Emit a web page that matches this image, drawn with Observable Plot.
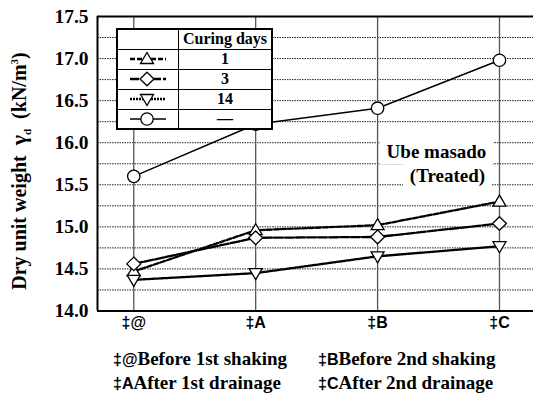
<!DOCTYPE html>
<html>
<head>
<meta charset="utf-8">
<script src="https://cdn.jsdelivr.net/npm/d3@7"></script>
<script src="https://cdn.jsdelivr.net/npm/@observablehq/plot@0.6"></script>
<style>
  body { margin: 0; background: #fff; }
  #wrap { position: relative; width: 533px; height: 401px; overflow: hidden; background: #fff; }
  .serif { font-family: "Liberation Serif", "Times New Roman", Times, serif; font-weight: bold; color: #000; }
  .sans { font-family: "Liberation Sans", Arial, Helvetica, sans-serif; font-weight: bold; color: #000; }
  .abs { position: absolute; white-space: nowrap; }
  #legend { position: absolute; left: 116px; top: 28px; width: 157px; height: 101px; background: #fff;
            border-collapse: collapse; border: 2px solid #000; box-sizing: border-box; }
  #legend td { border: 1.5px solid #000; padding: 0; text-align: center; vertical-align: middle;
               font-family: "Liberation Serif", "Times New Roman", Times, serif; font-weight: bold; font-size: 16px; line-height: 16px; }
  #legend svg { display: block; margin: 0 auto; }
</style>
</head>
<body>
<div id="wrap"></div>
<script>
// ---- data ----
const stages = [1, 2, 3, 4];
const stageLabels = ["‡@", "‡A", "‡B", "‡C"];
const seriesNames = ["1", "3", "14", "—"];
const day1 = [14.47, 14.96, 15.02, 15.3];
const day3 = [14.56, 14.87, 14.88, 15.04];
const day14 = [14.37, 14.45, 14.65, 14.77];
const untreated = [15.6, 16.22, 16.41, 16.98];
const yTickValues = [14.0, 14.5, 15.0, 15.5, 16.0, 16.5, 17.0, 17.5];
const gridValues = [14.25, 14.5, 14.75, 15.0, 15.25, 15.5, 15.75, 16.0, 16.25, 16.5, 16.75, 17.0, 17.25];
const captionLeft = ["‡@", "Before 1st shaking", "‡A", "After 1st drainage"];
const captionRight = ["‡B", "Before 2nd shaking", "‡C", "After 2nd drainage"];
const legendHeader = "Curing days";
const locationText = ["Ube masado", "(Treated)"];

const SERIF = '"Liberation Serif", "Times New Roman", Times, serif';
const SANS = '"Liberation Sans", Arial, Helvetica, sans-serif';

// ---- symbols ----
const triUp = { draw(c) { c.moveTo(0, -6.5); c.lineTo(6.5, 4.5); c.lineTo(-6.5, 4.5); c.closePath(); } };
const diamond = { draw(c) { c.moveTo(0, -6.8); c.lineTo(7, 0); c.lineTo(0, 6.8); c.lineTo(-7, 0); c.closePath(); } };
const triDown = { draw(c) { c.moveTo(0, 6.5); c.lineTo(6.5, -4.5); c.lineTo(-6.5, -4.5); c.closePath(); } };
const circ = { draw(c) { c.moveTo(6.2, 0); c.arc(0, 0, 6.2, 0, 2 * Math.PI); c.closePath(); } };

const seriesValues = [day1, day3, day14, untreated];
const seriesStyle = [
  { symbol: triUp, dash: "5,2", width: 2.3 },
  { symbol: diamond, dash: "9,2", width: 2.3 },
  { symbol: triDown, dash: "2,1", width: 2.3 },
  { symbol: circ, dash: null, width: 1.5 }
];

const rows = seriesNames.flatMap((s, si) => stages.map((st, i) => ({ series: s, si, stage: st, value: seriesValues[si][i] })));

const xDomain = [0.7025, 4.279];
const yDomain = [14, 17.5];

const marks = [
  Plot.ruleY(gridValues, { stroke: "#222", strokeWidth: 1, strokeDasharray: "1.5,1" }),
  Plot.ruleX(stages, { stroke: "#555", strokeWidth: 1.3 }),
  Plot.ruleY([yDomain[1]], { stroke: "#000", strokeWidth: 2 }),
  Plot.ruleY([yDomain[0]], { stroke: "#000", strokeWidth: 2 }),
  Plot.ruleX([xDomain[0]], { stroke: "#000", strokeWidth: 2 })
];
seriesNames.forEach((s, si) => {
  const st = seriesStyle[si];
  const data = rows.filter(d => d.si === si);
  marks.push(Plot.line(data, { x: "stage", y: "value", stroke: "#000", strokeWidth: st.width, strokeDasharray: st.dash }));
});
seriesNames.forEach((s, si) => {
  const st = seriesStyle[si];
  const data = rows.filter(d => d.si === si);
  marks.push(Plot.dot(data, { x: "stage", y: "value", symbol: st.symbol, fill: "#fff", stroke: "#000", strokeWidth: 1.3, r: 6 }));
});
marks.push(Plot.text(yTickValues, { y: d => d, frameAnchor: "left", dx: -9, textAnchor: "end", text: d => d3.format(".1f")(d),
  fontFamily: SERIF, fontWeight: "bold", fontSize: 19.5, fill: "#000" }));
marks.push(Plot.text(stages, { x: d => d, frameAnchor: "bottom", dy: 16.5, text: (d, i) => stageLabels[i],
  fontFamily: SANS, fontWeight: "bold", fontSize: 16, fill: "#000" }));

const chart = Plot.plot({
  width: 533,
  height: 340,
  marginTop: 16,
  marginBottom: 29.5,
  marginLeft: 97,
  marginRight: 0,
  x: { domain: xDomain, axis: null },
  y: { domain: yDomain, axis: null },
  style: { background: "transparent", overflow: "visible", fontFamily: SERIF },
  marks
});
chart.style.position = "absolute";
chart.style.left = "0px";
chart.style.top = "0px";
const wrap = document.getElementById("wrap");
wrap.appendChild(chart);

// y axis title
const title = document.createElement("div");
title.className = "abs serif";
title.style.cssText += "font-size:20px;left:19px;top:171px;transform:translate(-50%,-50%) rotate(-90deg);";
title.innerHTML = 'Dry unit weight&nbsp; <span style="font-size:22px">γ</span><sub style="font-size:11px">d</sub>&nbsp; (kN/m<sup style="font-size:11px">3</sup>)';
wrap.appendChild(title);

// location note with white background
const note1 = document.createElement("div");
note1.className = "abs serif";
note1.style.cssText += "left:380px;top:140px;width:113px;height:24px;background:#fff;font-size:19px;line-height:24px;text-align:center;";
note1.textContent = locationText[0];
wrap.appendChild(note1);
const note2 = document.createElement("div");
note2.className = "abs serif";
note2.style.cssText += "left:403px;top:164px;width:89px;height:23px;background:#fff;font-size:19px;line-height:23px;text-align:center;";
note2.textContent = locationText[1];
wrap.appendChild(note2);

// legend table
const table = document.createElement("table");
table.id = "legend";
const hdr = table.insertRow();
hdr.style.height = "20px";
hdr.insertCell().style.width = "60px";
const hc = hdr.insertCell();
hc.textContent = legendHeader;
seriesNames.forEach((s, si) => {
  const tr = table.insertRow();
  tr.style.height = "20px";
  const c1 = tr.insertCell();
  const st = seriesStyle[si];
  const svg = d3.create("svg").attr("width", 40).attr("height", 18);
  svg.append("line").attr("x1", 2).attr("x2", 38).attr("y1", 9).attr("y2", 9)
    .attr("stroke", "#000").attr("stroke-width", st.width).attr("stroke-dasharray", st.dash);
  const p = d3.path();
  st.symbol.draw(p);
  svg.append("path").attr("d", p.toString()).attr("transform", "translate(19,9)")
    .attr("fill", "#fff").attr("stroke", "#000").attr("stroke-width", 1.3);
  c1.appendChild(svg.node());
  const c2 = tr.insertCell();
  c2.textContent = s;
});
wrap.appendChild(table);

// captions
function caption(parts, left, top) {
  const d = document.createElement("div");
  d.className = "abs";
  d.style.left = left + "px";
  d.style.top = top + "px";
  d.innerHTML = '<span class="sans" style="font-size:16px">' + parts[0] + '</span><span class="serif" style="font-size:19px">' + parts[1] + '</span>';
  wrap.appendChild(d);
}
caption(captionLeft.slice(0, 2), 113, 348);
caption(captionLeft.slice(2, 4), 113, 372);
caption(captionRight.slice(0, 2), 318, 348);
caption(captionRight.slice(2, 4), 318, 372);
</script>
</body>
</html>
